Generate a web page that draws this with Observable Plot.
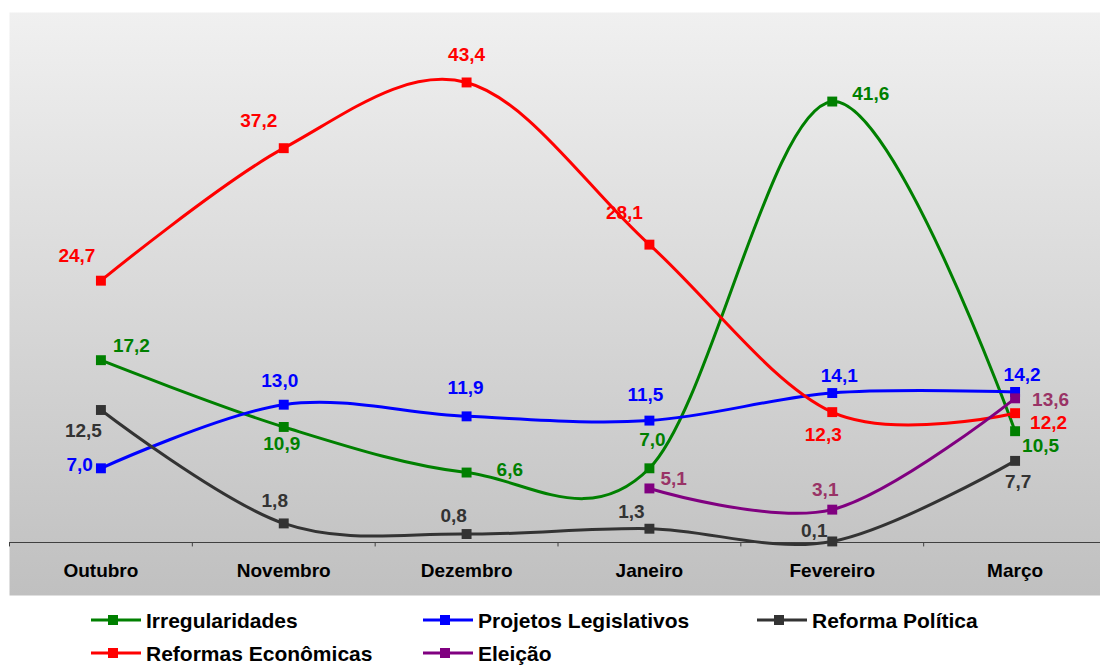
<!DOCTYPE html>
<html><head><meta charset="utf-8">
<script src="https://cdn.jsdelivr.net/npm/d3@7"></script>
<script src="https://cdn.jsdelivr.net/npm/@observablehq/plot@0.6"></script>
<style>
body{margin:0;background:#fff;font-family:"Liberation Sans",Arial,sans-serif;}
#wrap{position:relative;width:1100px;height:665px;overflow:hidden;}
.leg{position:absolute;display:flex;align-items:center;height:22px;font-size:21px;line-height:1;font-weight:bold;color:#000;white-space:nowrap;}
.leg svg{margin-right:5px;flex:none;}
</style></head><body><div id="wrap"></div>
<script>
// ---- data ----
const months = ["Outubro","Novembro","Dezembro","Janeiro","Fevereiro","Março"];
const seriesNames = ["Irregularidades","Projetos Legislativos","Reforma Política","Reformas Econômicas","Eleição"];
const irregularidades    = [17.2, 10.9, 6.6, 7.0, 41.6, 10.5];
const projetosLegislativos = [7.0, 13.0, 11.9, 11.5, 14.1, 14.2];
const reformaPolitica    = [12.5, 1.8, 0.8, 1.3, 0.1, 7.7];
const reformasEconomicas = [24.7, 37.2, 43.4, 28.1, 12.3, 12.2];
const eleicao            = [null, null, null, 5.1, 3.1, 13.6];
const seriesValues = [irregularidades, projetosLegislativos, reformaPolitica, reformasEconomicas, eleicao];

// ---- styles ----
const lineColors  = ["#008000","#0000FF","#333333","#FF0000","#800080"];
const labelColors = ["#008000","#0000FF","#333333","#FF0000","#993366"];
// label placement per series/point: [dx, dy, anchor]
const placement = [
  [[12,-14,"start"],[-2,17,"middle"],[30,-3,"start"],[3,-28,"middle"],[20,-8,"start"],[7,15,"start"]],
  [[-8,-3,"end"],[-4,-24,"middle"],[-1,-28,"middle"],[-4,-26,"middle"],[7,-17,"middle"],[7,-17,"middle"]],
  [[1,21,"end"],[-9,-23,"middle"],[-13,-18,"middle"],[-18,-17,"middle"],[-18,-11,"middle"],[3,21,"middle"]],
  [[-24,-25,"middle"],[-25,-27,"middle"],[0,-28,"middle"],[-25,-32,"middle"],[-9,23,"middle"],[15,10,"start"]],
  [null,null,null,[11,-10,"start"],[-7,-20,"middle"],[17,2,"start"]]
];

const fmt = v => v.toFixed(1).replace(".", ",");
const rowsBySeries = seriesValues.map((vals, s) =>
  vals.map((v, i) => ({s, i, v})).filter(d => d.v != null));

const marks = [];
marks.push(Plot.frame({fill: "url(#bgGrad)", stroke: null}));
marks.push(Plot.ruleY([0], {stroke: "#404040", strokeWidth: 1}));
const bounds = d3.range(months.length + 1).map(i => i - 0.5);
marks.push(Plot.ruleX(bounds, {x: d => d, y1: () => 0, y2: () => -0.42, stroke: "#404040", strokeWidth: 1}));
marks.push(Plot.text(months, {x: (d, i) => i, y: () => 0, text: d => d, dy: 28,
  fontSize: 19, fontWeight: "bold", fill: "#000"}));

rowsBySeries.forEach((rows, s) => {
  marks.push(Plot.line(rows, {x: "i", y: "v", stroke: lineColors[s], strokeWidth: 3,
    curve: "cardinal", tension: 0}));
});
rowsBySeries.forEach((rows, s) => {
  marks.push(Plot.dot(rows, {x: "i", y: "v", symbol: "square", r: 5.6, fill: lineColors[s], stroke: null}));
});
rowsBySeries.forEach((rows, s) => {
  rows.forEach(d => {
    const [dx, dy, anchor] = placement[s][d.i];
    marks.push(Plot.text([d], {x: "i", y: "v", text: r => fmt(r.v), dx, dy, textAnchor: anchor,
      fill: labelColors[s], fontSize: 19, fontWeight: "bold"}));
  });
});

const svg = Plot.plot({
  width: 1100, height: 600,
  marginLeft: 9, marginRight: 0, marginTop: 12, marginBottom: 5,
  style: {fontFamily: "'Liberation Sans', Arial, sans-serif", background: "white", overflow: "visible"},
  x: {type: "linear", domain: [-0.5, 5.5], range: [9, 1106], axis: null},
  y: {domain: [0, 50], range: [542, 12], axis: null},
  marks
});
const ns = "http://www.w3.org/2000/svg";
const defs = document.createElementNS(ns, "defs");
const grad = document.createElementNS(ns, "linearGradient");
grad.setAttribute("id", "bgGrad");
grad.setAttribute("x1", "0"); grad.setAttribute("y1", "0");
grad.setAttribute("x2", "0"); grad.setAttribute("y2", "1");
[["0", "#F0F0F0"], ["1", "#C0C0C0"]].forEach(([o, c]) => {
  const st = document.createElementNS(ns, "stop");
  st.setAttribute("offset", o); st.setAttribute("stop-color", c);
  grad.appendChild(st);
});
defs.appendChild(grad);
svg.insertBefore(defs, svg.firstChild);

const wrap = document.getElementById("wrap");
wrap.appendChild(svg);

// ---- legend ----
const legCols = [91, 423, 757];
const legRows = [620, 653];
seriesNames.forEach((name, s) => {
  const col = s % 3, row = Math.floor(s / 3);
  const div = document.createElement("div");
  div.className = "leg";
  div.style.left = legCols[col] + "px";
  div.style.top = (legRows[row] - 11) + "px";
  div.innerHTML = `<svg width="50" height="12"><line x1="0" x2="50" y1="6" y2="6" stroke="${lineColors[s]}" stroke-width="3"/><rect x="17" y="1" width="10" height="10" fill="${lineColors[s]}"/></svg><span>${name}</span>`;
  wrap.appendChild(div);
});
</script></body></html>
